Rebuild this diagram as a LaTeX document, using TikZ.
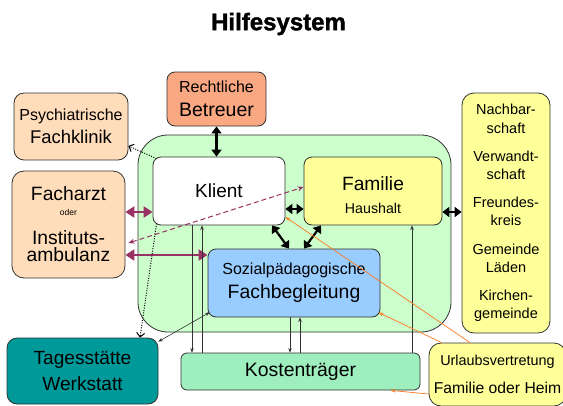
\documentclass[tikz,border=0pt]{standalone}
\usepackage{fontspec}
\setmainfont{Liberation Sans}
\newfontfamily\titlefont[FakeBold=1.5]{Liberation Sans Bold}
\usetikzlibrary{arrows.meta}
\definecolor{kerngreen}{RGB}{204,255,204}
\definecolor{lightyellow}{RGB}{255,255,153}
\definecolor{lightblue}{RGB}{153,204,255}
\definecolor{mint}{RGB}{158,238,190}
\definecolor{tealbox}{RGB}{0,153,153}
\definecolor{salmonbox}{RGB}{250,168,130}
\definecolor{peach}{RGB}{255,220,186}
\definecolor{plum}{RGB}{153,51,102}
\definecolor{orangeline}{RGB}{255,120,30}
\definecolor{edgegray}{RGB}{50,50,50}
\newcommand\fs[2]{\fontsize{#1}{#2}\selectfont}
\begin{document}
\begin{tikzpicture}[x=1pt,y=-1pt,
  box/.style={draw=edgegray, line width=0.8pt, rounded corners=8pt, inner sep=0pt, align=center, text=black},
  bigarrow/.style={line width=2.2pt, {Triangle[length=7pt,width=10pt]}-{Triangle[length=7pt,width=10pt]}},
  plumarrow/.style={draw=plum, line width=2.6pt, {Triangle[length=9pt,width=11pt]}-{Triangle[length=9pt,width=11pt]}},
  plumdash/.style={draw=plum, line width=1pt, dash pattern=on 5pt off 3pt, {Stealth[length=6pt,width=5pt]}-{Stealth[length=6pt,width=5pt]}},
  dotarrow/.style={line width=1pt, dash pattern=on 1pt off 1.5pt, -{Straight Barb[length=4pt,width=8pt]}},
  thinline/.style={draw=black!80, line width=0.6pt},
  thintip/.style={-{Stealth[length=4.5pt,width=3.5pt]}},
  thinboth/.style={{Stealth[length=4.5pt,width=3.5pt]}-{Stealth[length=4.5pt,width=3.5pt]}},
  orangearrow/.style={draw=orangeline, line width=0.7pt, -{Stealth[length=5pt,width=3.5pt]}},
]
\useasboundingbox (0,0) rectangle (563,405);

\node[font=\fs{24}{24}\titlefont] (title) at (278.5,24) {Hilfesystem};

\node[box, fill=kerngreen, rounded corners=30pt, minimum width=313pt, minimum height=197pt] (kern) at (294.5,233.5) {};

\node[box, fill=salmonbox, minimum width=99pt, minimum height=54pt, font=\fs{16}{24}] (betreuer) at (216.5,99) {Rechtliche\\{\fs{19.5}{24}Betreuer}};
\node[box, fill=peach, rounded corners=10pt, minimum width=114pt, minimum height=67pt, font=\fs{16}{23.4}] (klinik) at (71,126.5) {Psychiatrische\\{\fs{18.4}{23}Fachklinik}};
\node[box, fill=peach, rounded corners=12pt, minimum width=113pt, minimum height=107pt, font=\fs{19.3}{15}] (facharzt) at (68.5,224.5) {Facharzt\\{\fs{8.5}{9}oder}\\[13.3pt]Instituts-\\[2.7pt]ambulanz};

\node[box, fill=white, minimum width=132pt, minimum height=68pt, font=\fs{19}{23}] (klient) at (219,191) {Klient};
\node[box, fill=lightyellow, minimum width=138pt, minimum height=68pt] (familie) at (373,191) {};
\node[font=\fs{19.2}{22.3}, align=center, inner sep=0pt] (familietext) at (373,195) {Familie\\{\fs{14.2}{16}Haushalt}};
\node[box, fill=lightblue, minimum width=172pt, minimum height=68pt, font=\fs{16}{24.3}] (sozial) at (294,283) {Sozialpädagogische\\{\fs{19.4}{22}Fachbegleitung}};
\node[box, fill=mint, rounded corners=6pt, minimum width=239pt, minimum height=37pt, font=\fs{19.4}{22}] (kosten) at (300.5,371.5) {Kostenträger};
\node[box, fill=tealbox, rounded corners=10pt, minimum width=151pt, minimum height=66pt, font=\fs{19.1}{26.6}] (tages) at (82.5,371) {Tagesstätte\\Werkstatt};
\node[box, fill=lightyellow, rounded corners=12pt, minimum width=88pt, minimum height=240pt, font=\fs{14.5}{18.3}] (umfeld) at (506,213) {Nachbar-\\schaft\\[9.8pt]Verwandt-\\schaft\\[9.8pt]Freundes-\\kreis\\[9.8pt]Gemeinde\\Läden\\[9.8pt]Kirchen-\\gemeinde};
\node[box, fill=lightyellow, rounded corners=12pt, minimum width=137pt, minimum height=63pt, font=\fs{14.4}{27.4}] (urlaub) at (497.5,374.5) {Urlaubsvertretung\\{\fs{15.7}{18}Familie oder Heim}};

% thick black double arrows
\draw[bigarrow] (betreuer.south) -- (betreuer.south |- klient.north);
\draw[bigarrow] ([yshift=-18pt]klient.east) -- ([yshift=-18pt]familie.west);
\draw[bigarrow] ([xshift=53pt]klient.south) -- ([xshift=-5pt]sozial.north);
\draw[bigarrow] ([xshift=-52pt]familie.south) -- ([xshift=10pt]sozial.north);
\draw[bigarrow] ([yshift=-21pt]familie.east) -- ([yshift=1pt]umfeld.west);

% purple arrows
\draw[plumarrow] ([yshift=12.5pt]facharzt.east) -- ([yshift=-21pt]klient.west);
\draw[plumarrow] ([yshift=-30.5pt]facharzt.east) -- ([yshift=28pt]sozial.west);
\draw[plumdash] ([shift={(3pt,-18.5pt)}]facharzt.east) -- ([yshift=4pt]familie.west);

% dotted arrows
\draw[dotarrow] ([shift={(4pt,-2pt)}]klient.north west) -- ([yshift=-19.5pt]klinik.east);
\draw[dotarrow] ([shift={(4pt,2pt)}]klient.south west) -- ([xshift=57.5pt]tages.north);

% thin connectors
\draw[thinline, thinboth] ([shift={(2pt,5pt)}]sozial.south west) -- ([yshift=-4pt]tages.north east);
\draw[thinline, thintip] ([xshift=-27pt]klient.south) -- ([xshift=-108.5pt]kosten.north);
\draw[thinline, thintip] ([xshift=-98.5pt]kosten.north) -- ([xshift=-17pt]klient.south);
\draw[thinline, thintip] ([xshift=-4pt]sozial.south) -- ([xshift=-10.5pt]kosten.north);
\draw[thinline, thintip] ([xshift=-0.5pt]kosten.north) -- ([xshift=6pt]sozial.south);
\draw[thinline, thintip] ([xshift=111.5pt]kosten.north) -- ([xshift=39pt]familie.south);

% orange connectors
\draw[orangearrow] ([xshift=-27.5pt]urlaub.north) -- ([yshift=-26pt]klient.east);
\draw[orangearrow] ([xshift=13pt]urlaub.north west) -- ([shift={(-2pt,5pt)}]sozial.south east);
\draw[orangearrow] ([yshift=-19.5pt]urlaub.west) -- ([xshift=90pt]kosten.south);
\end{tikzpicture}
\end{document}
